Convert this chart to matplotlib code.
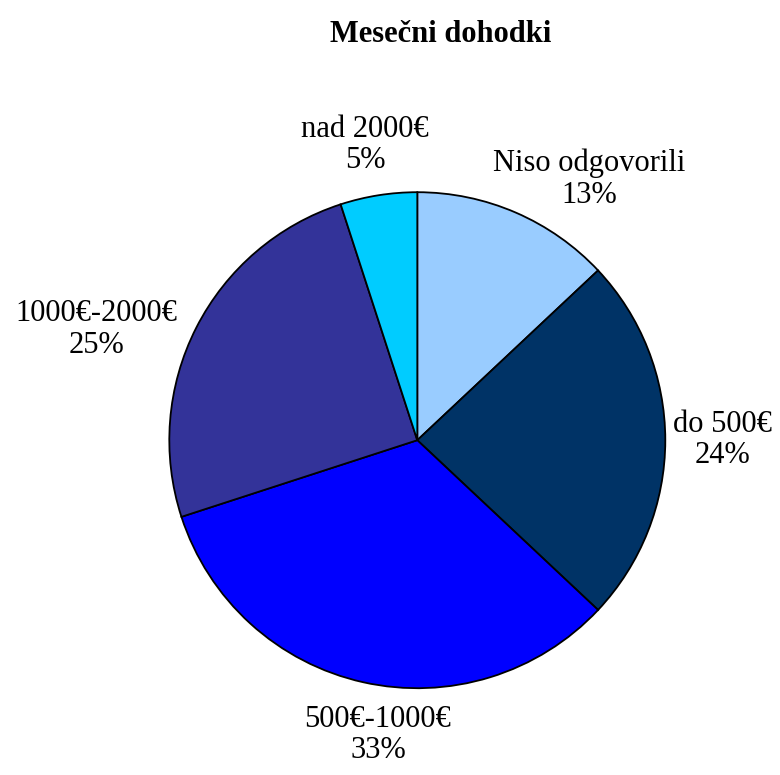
import numpy as np
import matplotlib.pyplot as plt

plt.rcParams['font.family'] = ['Liberation Serif', 'DejaVu Serif']

labels = ['Niso odgovorili', 'do 500€', '500€-1000€', '1000€-2000€', 'nad 2000€']
shares = [13, 24, 33, 25, 5]
colors = ['#99CCFF', '#003366', '#0000FF', '#333399', '#00CCFF']
# label placement: distance from centre (in radii) and angle tweak (deg)
label_dist = [1.26, 1.23, 1.20, 1.37, 1.21]
label_shift = [-10, 0, 5, 8, 1]

fig = plt.figure(figsize=(7.8, 7.75), dpi=100)
ax = fig.add_axes([0.535 - 0.318, 0.432 - 0.32, 0.636, 0.64])
wedges, _ = ax.pie(shares, colors=colors, startangle=90, counterclock=False,
                   wedgeprops=dict(edgecolor='black', linewidth=1.3))
ax.set_xlim(-1, 1)
ax.set_ylim(-1, 1)
ax.set_aspect('equal')

total = sum(shares)
start = 90.0
for lab, val, d, sh in zip(labels, shares, label_dist, label_shift):
    mid = start - val / total * 360 / 2
    start -= val / total * 360
    a = np.deg2rad(mid + sh)
    ax.text(d * np.cos(a), d * np.sin(a), f'{lab}\n{val}%', ha='center', va='center',
            fontsize=22, linespacing=1.1)

fig.text(0.565, 0.955, 'Mesečni dohodki', ha='center', va='center',
         fontsize=22, fontweight='bold')
fig.savefig('out.png', dpi=100)
